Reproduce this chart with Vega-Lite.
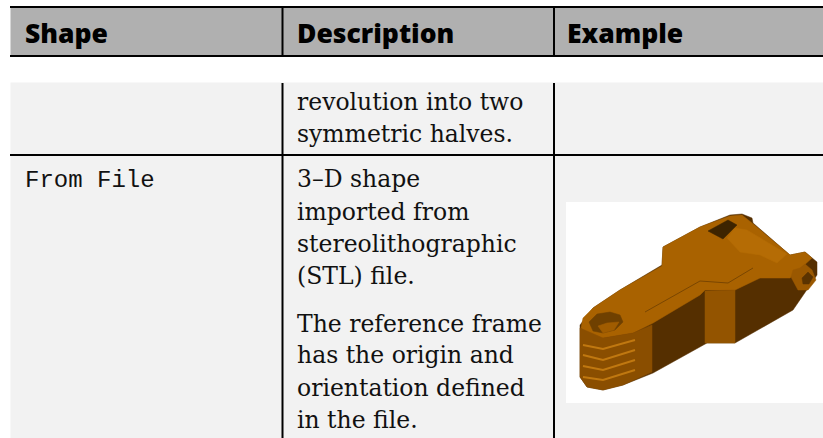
{"$schema":"https://vega.github.io/schema/vega-lite/v6.json","autosize":{"type":"fit","contains":"padding"},"width":823,"height":438,"padding":0,"background":"white","view":{"stroke":null},
"datasets":{
"boxes":[
{"part":"header","x":10.5,"x2":823,"y":8,"y2":55},
{"part":"body","x":10.5,"x2":823,"y":82.5,"y2":438},
{"part":"picture","x":566,"x2":823,"y":202,"y2":403},
{"part":"rule","x":10,"x2":823,"y":6,"y2":8},
{"part":"rule","x":10,"x2":823,"y":55,"y2":57},
{"part":"rule","x":10,"x2":823,"y":154,"y2":156},
{"part":"rule","x":281.5,"x2":283.5,"y":8,"y2":55},
{"part":"rule","x":553,"x2":555,"y":8,"y2":55},
{"part":"rule","x":281.5,"x2":283.5,"y":83,"y2":438},
{"part":"rule","x":553,"x2":555,"y":83,"y2":438}
],
"solid":[
{"part":"sil","n":0,"x":580,"y":325},{"part":"sil","n":1,"x":580,"y":377},{"part":"sil","n":2,"x":587,"y":387},{"part":"sil","n":3,"x":603,"y":390},{"part":"sil","n":4,"x":623,"y":385},{"part":"sil","n":5,"x":653,"y":373},{"part":"sil","n":6,"x":707,"y":343},{"part":"sil","n":7,"x":735,"y":343},{"part":"sil","n":8,"x":793,"y":310},{"part":"sil","n":9,"x":817,"y":275},{"part":"sil","n":10,"x":817,"y":262},{"part":"sil","n":11,"x":805,"y":252},{"part":"sil","n":12,"x":790,"y":255},{"part":"sil","n":13,"x":753,"y":223},{"part":"sil","n":14,"x":752,"y":218},{"part":"sil","n":15,"x":742,"y":214},{"part":"sil","n":16,"x":730,"y":215},{"part":"sil","n":17,"x":700,"y":227},{"part":"sil","n":18,"x":663,"y":247},{"part":"sil","n":19,"x":662,"y":265},{"part":"sil","n":20,"x":620,"y":290},{"part":"sil","n":21,"x":593,"y":308},
{"part":"top","n":0,"x":581,"y":328},{"part":"top","n":1,"x":583,"y":318},{"part":"top","n":2,"x":593,"y":308},{"part":"top","n":3,"x":620,"y":290},{"part":"top","n":4,"x":662,"y":266},{"part":"top","n":5,"x":663,"y":247},{"part":"top","n":6,"x":700,"y":227},{"part":"top","n":7,"x":730,"y":216},{"part":"top","n":8,"x":742,"y":215},{"part":"top","n":9,"x":752,"y":223},{"part":"top","n":10,"x":790,"y":255},{"part":"top","n":11,"x":805,"y":252},{"part":"top","n":12,"x":812,"y":258},{"part":"top","n":13,"x":790,"y":278},{"part":"top","n":14,"x":760,"y":278},{"part":"top","n":15,"x":735,"y":290},{"part":"top","n":16,"x":705,"y":290},{"part":"top","n":17,"x":700,"y":295},{"part":"top","n":18,"x":653,"y":323},{"part":"top","n":19,"x":633,"y":333},{"part":"top","n":20,"x":603,"y":338},{"part":"top","n":21,"x":587,"y":337},
{"part":"mid","n":0,"x":705,"y":291},{"part":"mid","n":1,"x":735,"y":290},{"part":"mid","n":2,"x":735,"y":343},{"part":"mid","n":3,"x":705,"y":343},
{"part":"front","n":0,"x":580,"y":328},{"part":"front","n":1,"x":603,"y":338},{"part":"front","n":2,"x":633,"y":333},{"part":"front","n":3,"x":652,"y":325},{"part":"front","n":4,"x":652,"y":372},{"part":"front","n":5,"x":623,"y":385},{"part":"front","n":6,"x":603,"y":390},{"part":"front","n":7,"x":587,"y":387},{"part":"front","n":8,"x":580,"y":377},
{"part":"barrel","n":0,"x":727,"y":238},{"part":"barrel","n":1,"x":735,"y":228},{"part":"barrel","n":2,"x":747,"y":230},{"part":"barrel","n":3,"x":787,"y":254},{"part":"barrel","n":4,"x":777,"y":263},{"part":"barrel","n":5,"x":760,"y":255},{"part":"barrel","n":6,"x":740,"y":252},
{"part":"pocket","n":0,"x":708,"y":231},{"part":"pocket","n":1,"x":728,"y":220},{"part":"pocket","n":2,"x":737,"y":225},{"part":"pocket","n":3,"x":723,"y":239},
{"part":"hole","n":0,"x":589,"y":322},{"part":"hole","n":1,"x":597,"y":314},{"part":"hole","n":2,"x":610,"y":312},{"part":"hole","n":3,"x":620,"y":315},{"part":"hole","n":4,"x":623,"y":322},{"part":"hole","n":5,"x":615,"y":330},{"part":"hole","n":6,"x":603,"y":333},{"part":"hole","n":7,"x":593,"y":331},
{"part":"holefloor","n":0,"x":598,"y":326},{"part":"holefloor","n":1,"x":607,"y":323},{"part":"holefloor","n":2,"x":619,"y":322},{"part":"holefloor","n":3,"x":614,"y":330},{"part":"holefloor","n":4,"x":603,"y":333},
{"part":"boss","n":0,"x":791,"y":277},{"part":"boss","n":1,"x":793,"y":270},{"part":"boss","n":2,"x":800,"y":268},{"part":"boss","n":3,"x":805,"y":264},{"part":"boss","n":4,"x":812,"y":270},{"part":"boss","n":5,"x":816,"y":280},{"part":"boss","n":6,"x":808,"y":290},{"part":"boss","n":7,"x":798,"y":290},
{"part":"bore","n":0,"x":802,"y":278},{"part":"bore","n":1,"x":808,"y":272},{"part":"bore","n":2,"x":813,"y":277},{"part":"bore","n":3,"x":809,"y":284},{"part":"bore","n":4,"x":803,"y":284}
],
"ribs":[
{"part":"r1","n":0,"x":583,"y":345},{"part":"r1","n":1,"x":603,"y":349},{"part":"r1","n":2,"x":635,"y":340},
{"part":"r2","n":0,"x":583,"y":355},{"part":"r2","n":1,"x":603,"y":360},{"part":"r2","n":2,"x":635,"y":350},
{"part":"r3","n":0,"x":583,"y":366},{"part":"r3","n":1,"x":603,"y":370},{"part":"r3","n":2,"x":635,"y":360},
{"part":"r4","n":0,"x":583,"y":377},{"part":"r4","n":1,"x":603,"y":380},{"part":"r4","n":2,"x":635,"y":370}
],
"seam":[
{"part":"s1","n":0,"x":645,"y":312},{"part":"s1","n":1,"x":700,"y":281},{"part":"s1","n":2,"x":728,"y":283},{"part":"s1","n":3,"x":753,"y":268}
],
"head":[{"t":"Shape","x":25,"y":42.5},{"t":"Description","x":297,"y":42.5},{"t":"Example","x":567,"y":42.5}],
"mono":[{"t":"From File","x":25,"y":187}],
"serif":[
{"t":"revolution into two","x":297,"y":110},
{"t":"symmetric halves.","x":297,"y":142},
{"t":"3–D  shape","x":297,"y":187},
{"t":"imported from","x":297,"y":220},
{"t":"stereolithographic","x":297,"y":252},
{"t":"(STL) file.","x":297,"y":284},
{"t":"The reference frame","x":297,"y":332},
{"t":"has the origin and","x":297,"y":363},
{"t":"orientation defined","x":297,"y":396},
{"t":"in the file.","x":297,"y":428}
]},
"encoding":{
"x":{"field":"x","type":"quantitative","scale":{"domain":[0,823],"nice":false,"zero":false},"axis":null},
"y":{"field":"y","type":"quantitative","scale":{"domain":[438,0],"nice":false,"zero":false},"axis":null}},
"resolve":{"scale":{"fill":"independent","stroke":"independent"}},
"layer":[
{"data":{"name":"boxes"},"mark":{"type":"rect","strokeWidth":0},"encoding":{"x2":{"field":"x2"},"y2":{"field":"y2"},"fill":{"field":"part","type":"nominal","legend":null,"scale":{"domain":["header","body","picture","rule"],"range":["#b0b0b0","#f2f2f2","#ffffff","#000000"]}}}},
{"data":{"name":"solid"},"mark":{"type":"line","interpolate":"linear-closed","strokeWidth":0.5},"encoding":{"order":{"field":"n","type":"quantitative"},"detail":{"field":"part"},"fill":{"field":"part","type":"nominal","legend":null,"scale":{"domain":["sil","top","mid","front","barrel","pocket","hole","holefloor","boss","bore"],"range":["#552f00","#a96200","#935400","#8a4e00","#b56c05","#3d2400","#6f4000","#a05c00","#9a5800","#5a3300"]}},"stroke":{"field":"part","type":"nominal","legend":null,"scale":{"domain":["sil","top","mid","front","barrel","pocket","hole","holefloor","boss","bore"],"range":["#552f00","#a96200","#935400","#8a4e00","#b56c05","#3d2400","#6f4000","#a05c00","#9a5800","#5a3300"]}}}},
{"data":{"name":"ribs"},"mark":{"type":"line","color":"#c07810","strokeWidth":2},"encoding":{"order":{"field":"n","type":"quantitative"},"detail":{"field":"part"}}},
{"data":{"name":"seam"},"mark":{"type":"line","color":"#7a4600","strokeWidth":1},"encoding":{"order":{"field":"n","type":"quantitative"},"detail":{"field":"part"}}},
{"data":{"name":"head"},"mark":{"type":"text","align":"left","baseline":"alphabetic","font":"Open Sans","fontWeight":800,"fontSize":26.5,"fill":"#000000"},"encoding":{"text":{"field":"t"}}},
{"data":{"name":"mono"},"mark":{"type":"text","align":"left","baseline":"alphabetic","font":"Liberation Mono","fontSize":24,"fill":"#111111"},"encoding":{"text":{"field":"t"}}},
{"data":{"name":"serif"},"mark":{"type":"text","align":"left","baseline":"alphabetic","font":"DejaVu Serif","fontSize":23.5,"fill":"#111111"},"encoding":{"text":{"field":"t"}}}
]}
